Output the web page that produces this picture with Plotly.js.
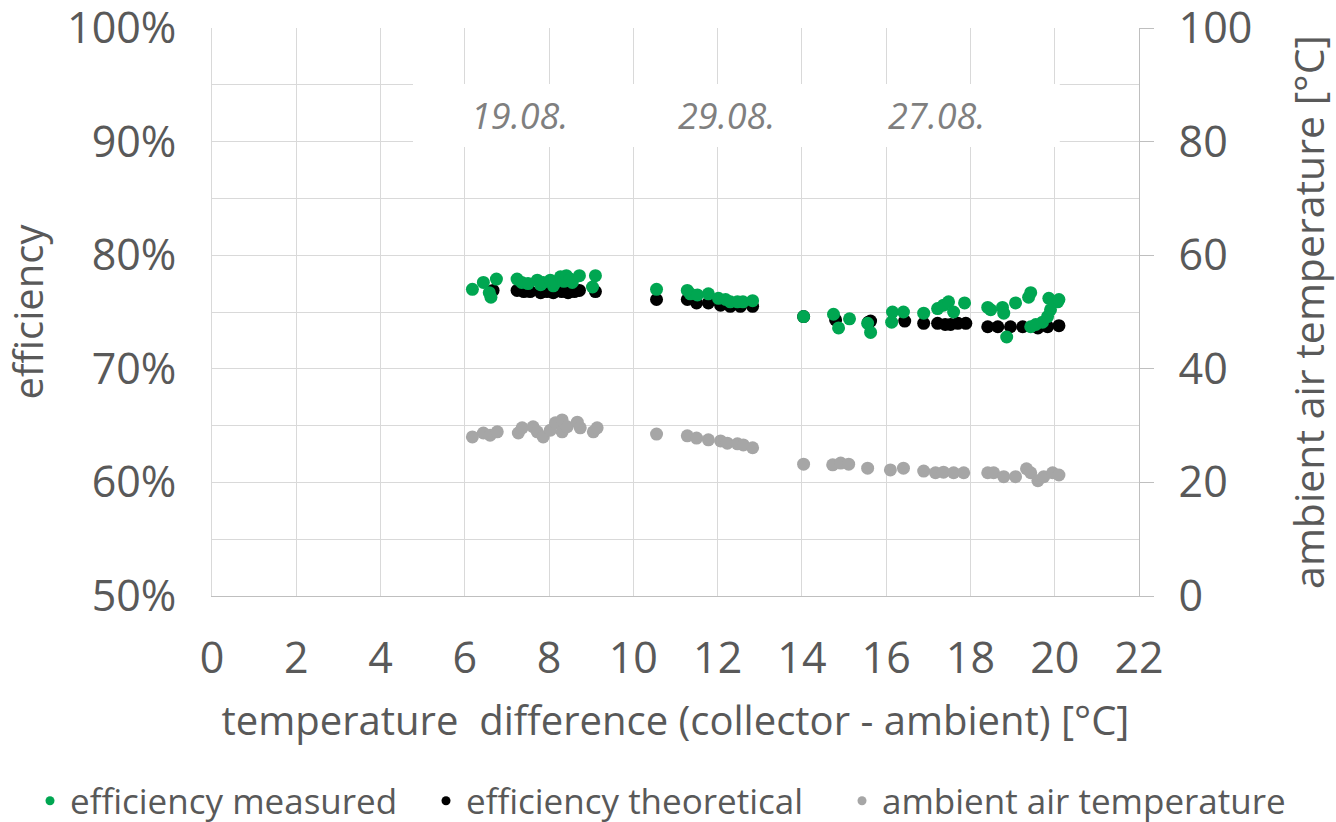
<!DOCTYPE html>
<html>
<head>
<meta charset="utf-8">
<script src="https://cdn.plot.ly/plotly-3.0.1.min.js"></script>
<style>
  html, body { margin: 0; padding: 0; background: #ffffff; }
  #chart { width: 1336px; height: 822px; }
</style>
</head>
<body>
<div id="chart"></div>
<script>
// ---- data ----
const seriesNames = ["efficiency measured", "efficiency theoretical", "ambient air temperature"];
const dateLabels = ["19.08.", "29.08.", "27.08."];
const dateLabelX = [7.3, 12.2, 17.2];

const xMeasured = [6.18, 6.44, 6.58, 6.62, 6.75, 7.24, 7.35, 7.50, 7.72, 7.80, 7.86, 8.03, 8.10, 8.15, 8.27, 8.35, 8.41, 8.50, 8.55, 8.72, 9.03, 9.10,
  10.55, 11.28, 11.35, 11.52, 11.78, 12.02, 12.19, 12.30, 12.47, 12.60, 12.83,
  14.04, 14.75, 14.87, 15.13, 15.56, 15.63, 16.15, 16.13, 16.41, 16.89, 17.22, 17.36, 17.48, 17.60, 17.86,
  18.41, 18.48, 18.76, 18.79, 18.86, 19.07, 19.38, 19.43, 19.43, 19.55, 19.71, 19.83, 19.90, 19.86, 20.07, 20.10];
const effMeasured = [77.0, 77.6, 76.7, 76.3, 77.9, 77.9, 77.6, 77.5, 77.8, 77.4, 77.6, 77.8, 77.3, 77.6, 78.1, 77.7, 78.2, 77.9, 77.6, 78.2, 77.2, 78.2,
  77.0, 76.9, 76.6, 76.5, 76.6, 76.2, 76.1, 75.9, 75.9, 75.9, 76.0,
  74.6, 74.8, 73.6, 74.4, 74.0, 73.2, 75.0, 74.1, 75.0, 74.9, 75.3, 75.6, 75.9, 75.0, 75.8,
  75.4, 75.2, 75.4, 74.9, 72.8, 75.8, 76.3, 76.7, 73.7, 73.9, 74.1, 74.6, 75.2, 76.2, 75.9, 76.1];

const xTheoretical = [6.67, 7.24, 7.40, 7.55, 7.80, 7.95, 8.10, 8.30, 8.45, 8.60, 8.72, 9.10,
  10.55, 11.28, 11.50, 11.78, 12.07, 12.30, 12.54, 12.83,
  14.04, 14.80, 15.58, 15.63, 16.44, 16.89, 17.22, 17.40, 17.53, 17.70, 17.89,
  18.41, 18.65, 18.95, 19.24, 19.60, 19.83, 20.10];
const effTheoretical = [76.9, 76.9, 76.8, 76.8, 76.7, 76.8, 76.7, 76.8, 76.7, 76.8, 76.9, 76.8,
  76.1, 76.1, 75.8, 75.8, 75.6, 75.5, 75.5, 75.5,
  74.6, 74.3, 74.1, 74.2, 74.2, 74.0, 74.0, 73.9, 73.9, 74.0, 74.0,
  73.7, 73.7, 73.7, 73.7, 73.6, 73.7, 73.8];

const xAmbient = [6.18, 6.44, 6.60, 6.77, 7.27, 7.36, 7.62, 7.72, 7.86, 8.03, 8.15, 8.31, 8.31, 8.43, 8.67, 8.74, 9.05, 9.14,
  10.55, 11.28, 11.50, 11.78, 12.07, 12.23, 12.47, 12.61, 12.83,
  14.04, 14.73, 14.92, 15.11, 15.56, 16.10, 16.41, 16.89, 17.17, 17.36, 17.60, 17.84,
  18.41, 18.55, 18.79, 19.07, 19.33, 19.43, 19.60, 19.74, 19.95, 20.10];
const tAmbient = [28.0, 28.7, 28.3, 28.9, 28.7, 29.6, 29.8, 28.9, 28.0, 29.2, 30.5, 31.0, 28.9, 29.8, 30.6, 29.6, 28.9, 29.6,
  28.5, 28.2, 27.8, 27.5, 27.3, 26.9, 26.8, 26.6, 26.1,
  23.2, 23.1, 23.4, 23.2, 22.5, 22.2, 22.5, 22.0, 21.7, 21.8, 21.7, 21.7,
  21.7, 21.7, 21.0, 21.0, 22.4, 21.7, 20.3, 21.0, 21.7, 21.3];

const colors = ["#00A651", "#000000", "#A6A6A6"];
const FONT = "'Open Sans', 'Noto Sans', sans-serif";
const TXT = "#595959";
const GRID = "#D9D9D9";

const toFrac = arr => arr.map(v => v / 100);

const traces = [
  { x: xAmbient, y: tAmbient, yaxis: "y2", type: "scatter", mode: "markers",
    marker: { color: colors[2], size: 13 }, showlegend: false },
  { x: xTheoretical, y: toFrac(effTheoretical), type: "scatter", mode: "markers",
    marker: { color: colors[1], size: 13 }, showlegend: false },
  { x: xMeasured, y: toFrac(effMeasured), type: "scatter", mode: "markers",
    marker: { color: colors[0], size: 13 }, showlegend: false },
  // legend entries (small dots like the reference legend), one legend per entry
  { x: [null], y: [null], type: "scatter", mode: "markers", name: seriesNames[0], legend: "legend",
    marker: { color: colors[0], size: 9 } },
  { x: [null], y: [null], type: "scatter", mode: "markers", name: seriesNames[1], legend: "legend2",
    marker: { color: colors[1], size: 9 } },
  { x: [null], y: [null], type: "scatter", mode: "markers", name: seriesNames[2], legend: "legend3",
    marker: { color: colors[2], size: 9 } }
];

const annotations = dateLabels.map((t, i) => ({
  x: dateLabelX[i], y: 0.923, xref: "x", yref: "y",
  text: t, showarrow: false,
  font: { family: FONT, size: 36, color: "#7F7F7F", style: "italic" }
}));

function legendAt(xPx) {
  return {
    orientation: "h", xref: "container", yref: "container",
    x: xPx / 1336, xanchor: "left", y: 1 - 801 / 822, yanchor: "middle",
    font: { family: FONT, size: 35, color: TXT },
    itemwidth: 30, bgcolor: "rgba(0,0,0,0)"
  };
}

const layout = {
  width: 1336, height: 822,
  paper_bgcolor: "#ffffff", plot_bgcolor: "#ffffff",
  margin: { l: 212, r: 197, t: 28, b: 226, pad: 0 },
  font: { family: FONT, color: TXT },
  showlegend: true,
  legend: legendAt(30),
  legend2: legendAt(426),
  legend3: legendAt(842),
  xaxis: {
    range: [0, 22.00001], dtick: 2, tick0: 0,
    showgrid: true, gridcolor: GRID, gridwidth: 1,
    zeroline: false, showline: true, linecolor: "#BFBFBF", linewidth: 1,
    ticks: "", ticklabelstandoff: 24, ticklabeloverflow: "allow",
    tickfont: { family: FONT, size: 43, color: TXT },
    title: { text: "temperature\u00a0 difference (collector - ambient) [°C]",
      font: { family: FONT, size: 40, color: TXT }, standoff: 22 }
  },
  yaxis: {
    range: [0.5, 1.0000001], dtick: 0.1, tick0: 0.5, tickformat: ".0%",
    showgrid: true, gridcolor: GRID, gridwidth: 1,
    minor: { dtick: 0.05, tick0: 0.5, showgrid: true, gridcolor: GRID, gridwidth: 1, ticks: "" },
    zeroline: false, showline: true, linecolor: GRID, linewidth: 1,
    ticks: "", ticklabelstandoff: 26, ticklabeloverflow: "allow",
    tickfont: { family: FONT, size: 43, color: TXT },
    title: { text: "efficiency", font: { family: FONT, size: 40, color: TXT }, standoff: 28 }
  },
  yaxis2: {
    overlaying: "y", side: "right",
    range: [0, 100.00001], dtick: 20, tick0: 0,
    showgrid: false, zeroline: false,
    showline: true, linecolor: "#BFBFBF", linewidth: 1,
    ticks: "outside", ticklen: 14, tickcolor: "#BFBFBF", tickwidth: 1, ticklabelstandoff: 16,
    ticklabeloverflow: "allow",
    tickfont: { family: FONT, size: 43, color: TXT },
    title: { text: "ambient air temperature [°C]", font: { family: FONT, size: 41, color: TXT }, standoff: 54 }
  },
  shapes: [{
    type: "rect", xref: "x", yref: "y", layer: "between",
    x0: 4.77, x1: 20.12, y0: 0.8952, y1: 0.9507,
    fillcolor: "#ffffff", line: { width: 0 }
  }],
  annotations: annotations
};

Plotly.newPlot("chart", traces, layout, { displayModeBar: false, staticPlot: true });
</script>
</body>
</html>
